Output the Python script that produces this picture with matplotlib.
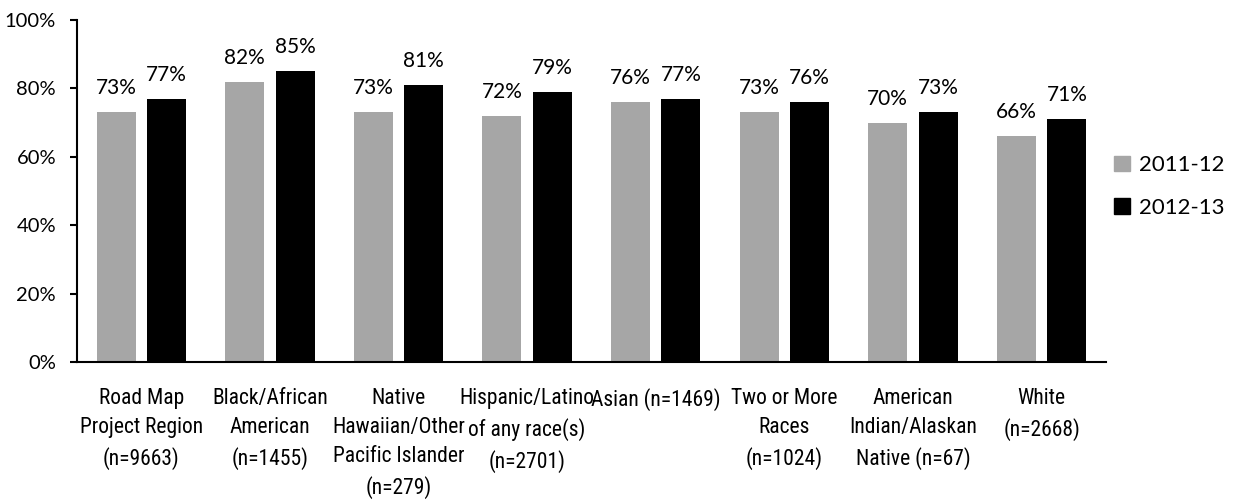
import matplotlib
matplotlib.use("Agg")
import matplotlib.pyplot as plt
from matplotlib import font_manager
from matplotlib.ticker import FuncFormatter
from matplotlib.patches import Patch
import numpy as np

categories = [
    "Road Map\nProject Region\n(n=9663)",
    "Black/African\nAmerican\n(n=1455)",
    "Native\nHawaiian/Other\nPacific Islander\n(n=279)",
    "Hispanic/Latino\nof any race(s)\n(n=2701)",
    "Asian (n=1469)",
    "Two or More\nRaces\n(n=1024)",
    "American\nIndian/Alaskan\nNative (n=67)",
    "White\n(n=2668)",
]
series_names = ["2011-12", "2012-13"]
values_2011 = [73, 82, 73, 72, 76, 73, 70, 66]
values_2012 = [77, 85, 81, 79, 77, 76, 73, 71]
y_ticks = [0, 20, 40, 60, 80, 100]

GRAY = "#a6a6a6"
BLACK = "#000000"


def pick_font(names):
    installed = {f.name for f in font_manager.fontManager.ttflist}
    for n in names:
        if n in installed:
            return n
    return "DejaVu Sans"


narrow = pick_font(["Liberation Sans Narrow", "Roboto Condensed", "DejaVu Sans"])
main = pick_font(["Lato", "Open Sans", "DejaVu Sans"])
plt.rcParams["font.family"] = main

fig = plt.figure(figsize=(12.35, 5.04), dpi=100)
ax = fig.add_axes([0.0623, 0.2817, 0.8332, 0.6786])

x = np.arange(len(categories))
width = 0.303
offset = 0.196
b1 = ax.bar(x - offset, values_2011, width, color=GRAY, label=series_names[0])
b2 = ax.bar(x + offset, values_2012, width, color=BLACK, label=series_names[1])

# value labels above each bar
for bars, vals in ((b1, values_2011), (b2, values_2012)):
    for rect, v in zip(bars, vals):
        ax.annotate(f"{v}%", (rect.get_x() + rect.get_width() / 2, v),
                    xytext=(0, 10), textcoords="offset points",
                    ha="center", va="bottom", fontsize=15)

ax.set_xlim(-0.5, len(categories) - 0.5)
ax.set_ylim(0, 100)
ax.set_yticks(y_ticks)
ax.yaxis.set_major_formatter(FuncFormatter(lambda v, p: f"{int(v)}%"))
ax.tick_params(axis="y", length=5, width=1.5, pad=10, labelsize=14.5, direction="out")
ax.set_xticks(x)
ax.set_xticklabels(categories, fontsize=15.5, family=narrow, linespacing=1.5)
ax.tick_params(axis="x", length=0, pad=19)

for side in ("top", "right"):
    ax.spines[side].set_visible(False)
for side in ("left", "bottom"):
    ax.spines[side].set_linewidth(1.5)

handles = [Patch(color=GRAY), Patch(color=BLACK)]
fig.legend(handles, series_names, loc="center left", bbox_to_anchor=(0.886, 0.63),
           frameon=False, fontsize=16, handlelength=0.7, handleheight=0.7,
           handletextpad=0.4, labelspacing=1.0)

fig.savefig("out.png", dpi=100)
